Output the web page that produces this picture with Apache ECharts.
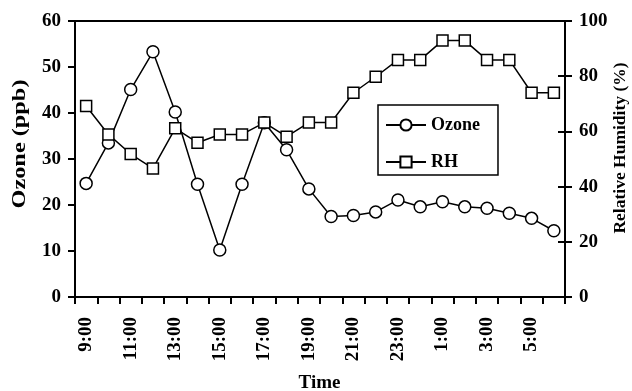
<!DOCTYPE html>
<html>
<head>
<meta charset="utf-8">
<script src="https://cdn.jsdelivr.net/npm/echarts@6/dist/echarts.min.js"></script>
<style>
html,body{margin:0;padding:0;background:#fff;}
#chart{width:632px;height:391px;}
</style>
</head>
<body>
<div id="chart"></div>
<script>
const categories = ['9:00','10:00','11:00','12:00','13:00','14:00','15:00','16:00','17:00','18:00','19:00','20:00','21:00','22:00','23:00','0:00','1:00','2:00','3:00','4:00','5:00','6:00'];
const ozone = [24.7, 33.5, 45.1, 53.3, 40.2, 24.5, 10.2, 24.5, 37.9, 32.0, 23.5, 17.5, 17.7, 18.5, 21.1, 19.6, 20.7, 19.6, 19.3, 18.2, 17.1, 14.4];
const rh = [69.2, 58.9, 51.8, 46.6, 61.1, 55.9, 58.9, 58.9, 63.2, 58.1, 63.2, 63.2, 74.0, 79.8, 85.9, 85.9, 92.9, 92.9, 85.9, 85.9, 74.0, 74.0];
const leftTitle = 'Ozone (ppb)';
const rightTitle = 'Relative Humidity (%)';
const xTitle = 'Time';

const FONT = '"Liberation Serif", "Times New Roman", serif';
const chart = echarts.init(document.getElementById('chart'), null, {renderer: 'canvas'});
const axisLine = {show: true, lineStyle: {color: '#000', width: 2}};
const labelStyle = {color: '#000', fontFamily: FONT, fontWeight: 'bold', fontSize: 19};

chart.setOption({
  animation: false,
  backgroundColor: '#fff',
  grid: {left: 75, right: 67, top: 21, bottom: 94, show: true, borderColor: '#000', borderWidth: 2, backgroundColor: 'transparent'},
  legend: {
    orient: 'vertical', left: 378, top: 105,
    data: ['Ozone', 'RH'],
    itemWidth: 40, itemHeight: 14, itemGap: 19,
    padding: [11, 18, 4, 7],
    borderColor: '#000', borderWidth: 1.5,
    textStyle: {color: '#000', fontFamily: FONT, fontWeight: 'bold', fontSize: 18}
  },
  xAxis: {
    type: 'category', data: categories, boundaryGap: true,
    axisLine: axisLine,
    axisTick: {show: true, interval: 0, length: 7, lineStyle: {color: '#000', width: 2}},
    axisLabel: {interval: 1, rotate: 90, margin: 20, fontSize: 19, color: '#000', fontFamily: FONT, fontWeight: 'bold', padding: [0, 0, 7, 0]},
    splitLine: {show: false}
  },
  yAxis: [
    {
      type: 'value', min: 0, max: 60, interval: 10, position: 'left',
      axisLine: axisLine,
      axisTick: {show: true, length: 7, lineStyle: {color: '#000', width: 2}},
      axisLabel: Object.assign({margin: 14}, labelStyle),
      splitLine: {show: false}
    },
    {
      type: 'value', min: 0, max: 100, interval: 20, position: 'right',
      axisLine: axisLine,
      axisTick: {show: true, length: 7, lineStyle: {color: '#000', width: 2}},
      axisLabel: Object.assign({margin: 14}, labelStyle),
      splitLine: {show: false}
    },
    {
      type: 'value', min: 0, max: 100, interval: 20, position: 'right',
      axisLine: {show: false},
      axisTick: {show: true, inside: true, length: 7, lineStyle: {color: '#000', width: 2}},
      axisLabel: {show: false},
      splitLine: {show: false}
    }
  ],
  graphic: [
    {type: 'text', x: 20, y: 144, rotation: Math.PI / 2, scaleX: 1.35,
     style: {text: leftTitle, font: 'bold 18px ' + FONT, fill: '#000', align: 'center', verticalAlign: 'middle'}},
    {type: 'text', x: 620, y: 148, rotation: Math.PI / 2,
     style: {text: rightTitle, font: 'bold 17.5px ' + FONT, fill: '#000', align: 'center', verticalAlign: 'middle'}},
    {type: 'text', x: 319.5, y: 383,
     style: {text: xTitle, font: 'bold 19px ' + FONT, fill: '#000', align: 'center', verticalAlign: 'middle'}}
  ],
  series: [
    {
      name: 'Ozone', type: 'line', yAxisIndex: 0, data: ozone,
      symbol: 'circle', symbolSize: 12, showAllSymbol: true,
      lineStyle: {color: '#000', width: 1.5},
      itemStyle: {color: '#fff', borderColor: '#000', borderWidth: 1.5},
      z: 2
    },
    {
      name: 'RH', type: 'line', yAxisIndex: 1, data: rh,
      symbol: 'rect', symbolSize: 11, showAllSymbol: true,
      lineStyle: {color: '#000', width: 1.5},
      itemStyle: {color: '#fff', borderColor: '#000', borderWidth: 1.5},
      z: 3
    }
  ]
});
</script>
</body>
</html>
